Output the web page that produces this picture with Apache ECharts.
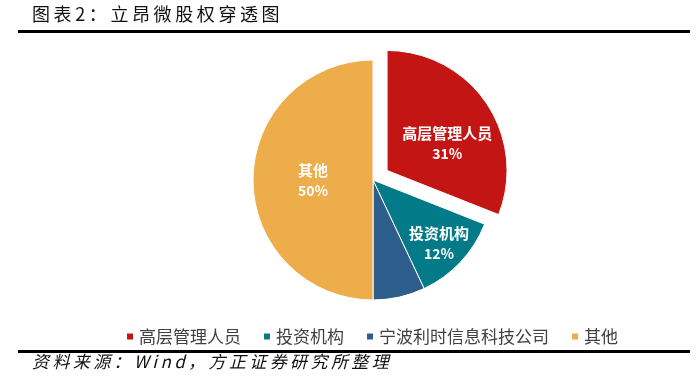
<!DOCTYPE html>
<html>
<head>
<meta charset="utf-8">
<script src="https://cdn.jsdelivr.net/npm/echarts@6/dist/echarts.min.js"></script>
<style>
  html, body { margin: 0; padding: 0; background: #fff; }
  #chart { width: 700px; height: 378px; }
</style>
</head>
<body>
<div id="chart"></div>
<script>
// 股权结构数据
const names = ['高层管理人员', '投资机构', '宁波利时信息科技公司', '其他']
const shares = [31, 12, 7, 50]
const colors = ['#C41515', '#027A87', '#2D5E8C', '#ECAD4A']
const showLabel = [true, true, false, true]

const titleText = '图表2：立昂微股权穿透图'
const sourceText = '资料来源：Wind，方正证券研究所整理'

// 字间距：在字符之间插入细空格
const spaced = (s) => s.split('').join('\u2009')

const chart = echarts.init(document.getElementById('chart'))

const pieData = names.map((n, i) => ({
  name: n,
  value: shares[i],
  selected: i === 0,
  itemStyle: { color: colors[i] },
  label: { show: showLabel[i] }
}))

const option = {
  animation: false,
  graphic: [
    {
      type: 'text', left: 32, top: 5,
      style: { text: spaced(titleText), font: '18px "Noto Sans CJK SC"', fill: '#111' }
    },
    { type: 'rect', shape: { x: 18, y: 30, width: 672, height: 3 }, style: { fill: '#000' } },
    { type: 'rect', shape: { x: 18, y: 350, width: 672, height: 3 }, style: { fill: '#000' } },
    {
      type: 'text', left: 32, top: 353,
      style: { text: spaced(sourceText), font: 'italic 17px "Noto Sans CJK SC"', fill: '#111' }
    }
  ],
  legend: {
    left: 120,
    top: 323,
    icon: 'rect',
    itemWidth: 8,
    itemHeight: 8,
    itemGap: 21,
    textStyle: { fontSize: 17, color: '#404040', fontFamily: 'Noto Sans CJK SC' },
    data: names
  },
  series: [
    {
      type: 'pie',
      center: [373, 180],
      radius: [0, 120],
      startAngle: 90,
      selectedMode: 'single',
      selectedOffset: 17,
      itemStyle: { borderColor: '#fff', borderWidth: 1 },
      label: {
        position: 'inside',
        formatter: '{n|{b}}\n{p|{d}%}',
        rich: {
          n: { fontSize: 15, fontWeight: 'bold', color: '#fff', fontFamily: 'Noto Sans CJK SC', lineHeight: 22 },
          p: { fontSize: 14, fontWeight: 'bold', color: '#fff', fontFamily: 'Noto Sans CJK SC', lineHeight: 20 }
        }
      },
      labelLine: { show: false },
      emphasis: { disabled: true },
      labelLayout: function (p) {
        if (p.dataIndex === 0) return { dx: 8, dy: 8 }
        if (p.dataIndex === 1) return { dx: 20, dy: 20 }
        if (p.dataIndex === 3) return { dx: 3, dy: 0 }
        return {}
      },
      data: pieData
    }
  ]
}

chart.setOption(option)
</script>
</body>
</html>
